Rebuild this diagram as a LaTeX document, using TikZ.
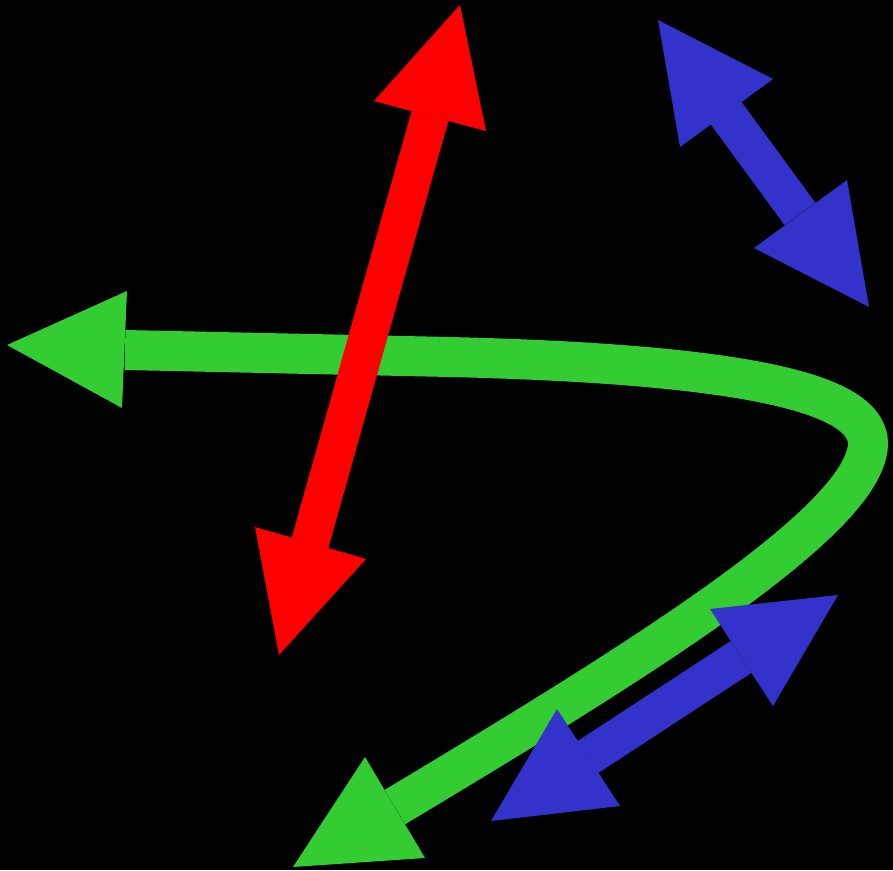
\documentclass[tikz,border=0pt]{standalone}
\definecolor{rd}{RGB}{255,0,0}
\definecolor{bl}{RGB}{51,51,204}
\definecolor{gr}{RGB}{51,204,51}
\tikzset{shaft/.style={line width=38pt,line cap=butt}}
\begin{document}
\begin{tikzpicture}[x=1pt,y=-1pt]
\fill[black] (0,0) rectangle (893,870);
\useasboundingbox (0,0) rectangle (893,870);
% green curved arrow
\coordinate (gA) at (125,350);
\coordinate (gB) at (395,807);
\draw[gr,line width=40pt] (gA) -- (450,357) .. controls (780,365) and (868,400) .. (868,444) .. controls (866,520) and (640,660) .. (gB);
\fill[gr] (7,345) -- (127,291) -- (122,408) -- cycle;
\fill[gr] (293,867) -- (365,757) -- (425,858) -- cycle;
% red arrow
\coordinate (rA) at (430,116);
\coordinate (rB) at (310,543);
\draw[rd,shaft] (rA) -- (rB);
\fill[rd] (460,5) -- (374,101) -- (486,131) -- cycle;
\fill[rd] (279,655) -- (255,527) -- (366,559) -- cycle;
% blue upper arrow
\coordinate (bA) at (726,113);
\coordinate (bB) at (800,214);
\draw[bl,shaft] (bA) -- (bB);
\fill[bl] (658,20) -- (680,147) -- (773,79) -- cycle;
\fill[bl] (869,307) -- (754,248) -- (847,180) -- cycle;
% blue lower arrow
\coordinate (cA) at (741,657);
\coordinate (cB) at (588,757);
\draw[bl,shaft] (cA) -- (cB);
\fill[bl] (838,595) -- (710,609) -- (773,706) -- cycle;
\fill[bl] (491,821) -- (557,709) -- (620,806) -- cycle;
\end{tikzpicture}
\end{document}
